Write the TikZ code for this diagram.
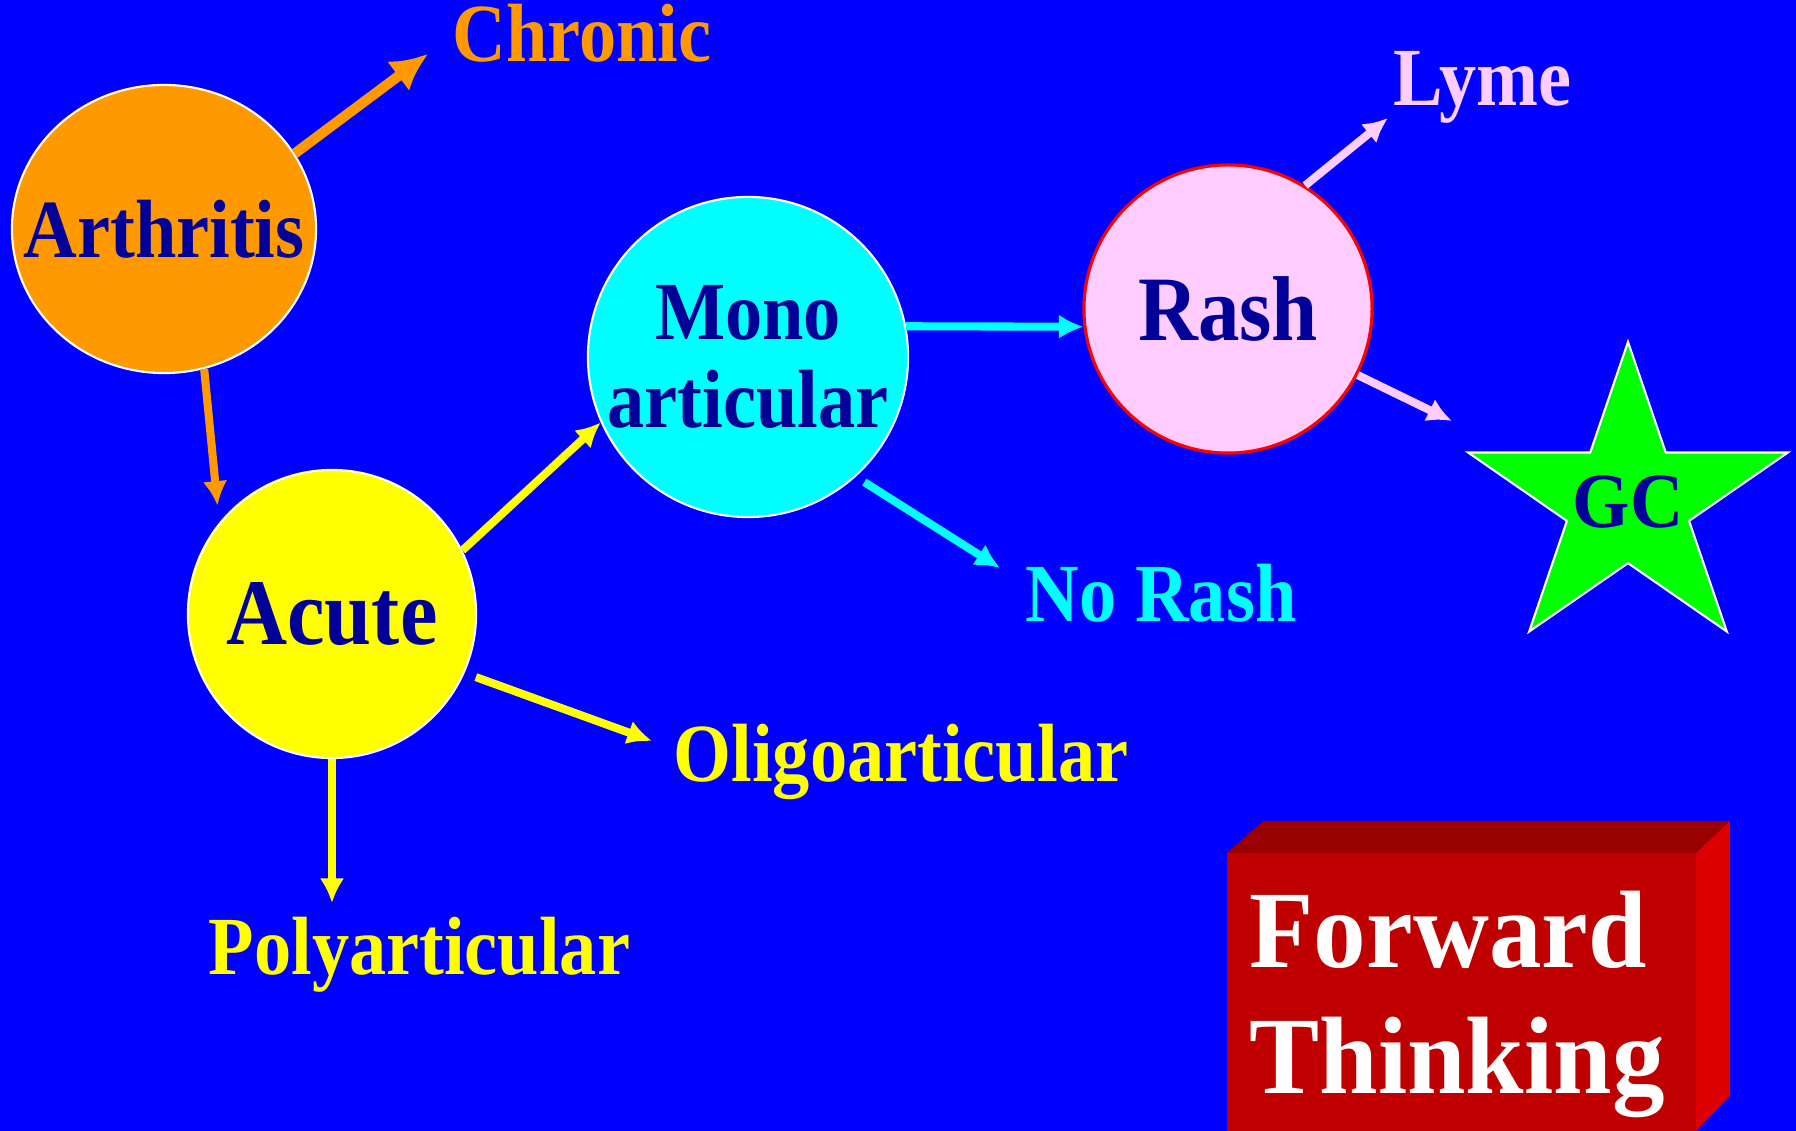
\documentclass[tikz,border=0pt]{standalone}
\usepackage{fontspec}
\newfontfamily\slidefont[FakeStretch=0.9]{Liberation Serif}
\newfontfamily\boxfont[FakeStretch=0.955]{Liberation Serif}
\usetikzlibrary{shapes.geometric, arrows.meta}

\definecolor{slideblue}{HTML}{0000FF}
\definecolor{slideorange}{HTML}{FF9900}
\definecolor{slideyellow}{HTML}{FFFF00}
\definecolor{slidecyan}{HTML}{00FFFF}
\definecolor{slidegreen}{HTML}{00FF00}
\definecolor{slidered}{HTML}{FF0000}
\definecolor{pinkish}{HTML}{FFCCFF}
\definecolor{ink}{HTML}{000099}
\definecolor{boxfront}{HTML}{C00000}
\definecolor{boxtop}{HTML}{990000}
\definecolor{boxside}{HTML}{DD0000}

\begin{document}
\begin{tikzpicture}[x=0.01cm, y=-0.01cm,
    bubble/.style={draw=white, line width=0.6pt, inner sep=0pt, text=ink, align=center,
      font=\slidefont\bfseries\fontsize{23.5}{25}\selectfont},
    tag/.style={anchor=base west, inner sep=0pt, font=\slidefont\bfseries\fontsize{23.5}{25}\selectfont},
    boxtext/.style={anchor=base west, inner sep=0pt, text=white, font=\boxfont\bfseries\fontsize{31.3}{36}\selectfont},
    link/.style={line width=2.3pt, -{Latex[length=7pt, width=7pt]}}]

	\fill[slideblue] (0,0) rectangle (1796,1131);
	\useasboundingbox (0,0) rectangle (1796,1131);
	\clip (0,0) rectangle (1796,1131);

	% the bubbles
	\node (arth) at (164,229) [bubble, ellipse, fill=slideorange, minimum width=3.04cm, minimum height=2.88cm] {\makebox[0pt]{Arthritis}};
	\node (acute) at (332,614) [bubble, circle, fill=slideyellow, minimum size=2.88cm, font=\slidefont\bfseries\fontsize{26.7}{28}\selectfont] {Acute};
	\node (mono) at (748,357) [bubble, circle, fill=slidecyan, minimum size=3.2cm] {Mono\\articular};
	\node (rash) at (1228,309) [bubble, circle, draw=slidered, line width=0.9pt, fill=pinkish, minimum size=2.88cm, font=\slidefont\bfseries\fontsize{26.2}{28}\selectfont] {Rash};
	\node (gc) at (1628,502) [bubble, star, star points=5, star point ratio=2.618, xscale=1.05, fill=slidegreen, minimum size=3.2cm, font=\slidefont\bfseries\fontsize{22.2}{24}\selectfont] {\makebox[0pt]{GC}};

	% the outcomes
	\node (chronic) at (452,62) [tag, text=slideorange] {Chronic};
	\node (lyme) at (1393,106) [tag, text=pinkish] {Lyme};
	\node (norash) at (1025,622) [tag, text=slidecyan] {No Rash};
	\node (oligo) at (673,782) [tag, text=slideyellow] {Oligoarticular};
	\node (poly) at (208,975) [tag, text=slideyellow] {Polyarticular};

	\coordinate (chronicTip) at (428,54);
	\coordinate (lymeTip) at (1388,118);
	\coordinate (gcTip) at (1452,421);
	\coordinate (norashTip) at (1000,568);
	\coordinate (oligoTip) at (652,741);
	\coordinate (polyTip) at (332,903);

	\draw[link, slideorange, line width=2.9pt, -{Latex[length=10.5pt, width=10.5pt]}] (arth.30) to (chronicTip);
	\draw[link, slideorange, shorten >=0.17cm] (arth.-74) to (acute.141);
	\draw[link, slideyellow] (acute.26) to (mono.204);
	\draw[link, slideyellow, shorten <=0.12cm] (acute.-24) to (oligoTip);
	\draw[link, slideyellow] (acute.south) to (polyTip);
	\draw[link, slidecyan] (mono.11) to (rash.187);
	\draw[link, slidecyan, shorten <=0.1cm] (mono.-48) to (norashTip);
	\draw[link, pinkish] (rash.58) to (lymeTip);
	\draw[link, pinkish] (rash.-27) to (gcTip);

	% the red block
	\fill[boxtop] (1227,853) -- (1263,821) -- (1730,821) -- (1696,853) -- cycle;
	\fill[boxside] (1696,853) -- (1730,821) -- (1730,1096) -- (1696,1131) -- cycle;
	\fill[boxfront] (1227,853) rectangle (1696,1140);
	\node (forward) at (1249,968) [boxtext] {Forward};
	\node (thinking) at (1249,1094) [boxtext] {Thinking};
\end{tikzpicture}
\end{document}
